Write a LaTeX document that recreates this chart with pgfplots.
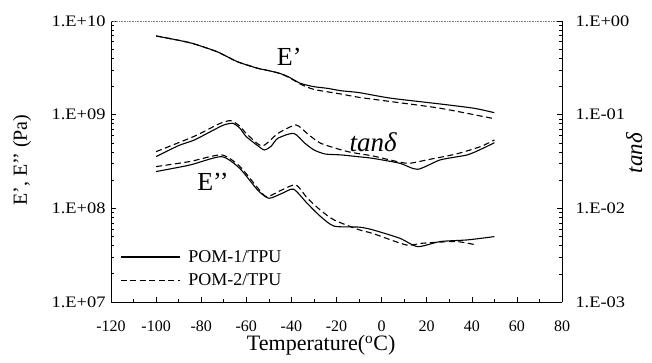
\documentclass[border=0pt]{standalone}
\usepackage{pgfplots}
\pgfplotsset{compat=1.18}
\usepackage{fontspec}
\setmainfont{Liberation Serif}
\newfontfamily\widefont[FakeStretch=1.15]{Liberation Serif}
\begin{document}
\begin{tikzpicture}[x=1pt,y=1pt]
\useasboundingbox (0,0) rectangle (652,363);
\begin{axis}[
  at={(111pt,61pt)}, anchor=south west,
  scale only axis, width=451pt, height=281pt,
  xmin=-120, xmax=80,
  ymode=log, ymin=1e7, ymax=1e10,
  axis y line*=left, axis x line*=bottom,
  axis line style={line width=0.8pt},
  tick align=inside,
  xtick={-120,-100,...,80}, minor x tick num=1,
  ytick={1e7,1e8,1e9,1e10},
  yticklabels={1.E+07,1.E+08,1.E+09,1.E+10},
  major tick length=5pt, minor tick length=3pt,
  tick style={line width=0.6pt, black},
  /pgf/number format/assume math mode=true,
  xticklabel style={font=\fontsize{16}{19}\selectfont, yshift=-15pt},
  yticklabel style={font=\widefont\fontsize{16}{19}\selectfont, xshift=-2pt},
  xlabel={Temperature(\textsuperscript{o}C)},
  xlabel style={font=\fontsize{22}{26}\selectfont, at={(axis description cs:0.466,-0.155)}, anchor=center},
  ylabel={E’, E’’ (Pa)},
  ylabel style={font=\fontsize{20}{24}\selectfont, at={(axis description cs:-0.197,0.505)}, anchor=center},
  legend style={draw=none, fill=none, at={(axis description cs:0.02,0.045)}, anchor=south west,
    font=\fontsize{18}{21}\selectfont, row sep=6pt, inner sep=0pt, nodes={inner xsep=8pt}},
  legend cell align=left,
  legend image code/.code={\draw[#1] (0pt,0pt) -- (59pt,0pt);},
  every axis plot/.append style={line width=1.1pt, black, smooth, tension=0.4},
]
% E' solid
\addplot[solid] coordinates {(-100,6.92e9)(-85,5.86e9)(-73,4.70e9)(-64,3.68e9)(-55,3.13e9)(-50,2.95e9)(-45,2.75e9)(-41,2.51e9)(-36,2.16e9)(-30,1.99e9)(-24,1.91e9)(-18,1.80e9)(-10,1.72e9)(4,1.50e9)(26,1.30e9)(41,1.17e9)(50,1.05e9)};
\addlegendentry{POM-1/TPU}
% E' dashed
\addplot[dash pattern=on 6pt off 3.5pt] coordinates {(-100,6.92e9)(-85,5.86e9)(-73,4.70e9)(-64,3.68e9)(-55,3.13e9)(-50,2.95e9)(-45,2.75e9)(-41,2.49e9)(-36,2.12e9)(-30,1.86e9)(-18,1.66e9)(-10,1.53e9)(4,1.38e9)(26,1.17e9)(49,9.15e8)};
\addlegendentry{POM-2/TPU}
% E'' solid
\addplot[solid, forget plot] coordinates {(-100,2.47e8)(-85,2.90e8)(-71,3.56e8)(-63,2.68e8)(-55,1.57e8)(-50,1.28e8)(-44,1.45e8)(-39,1.60e8)(-33,1.13e8)(-27,8.15e7)(-21,6.45e7)(-10,6.3e7)(-4,5.9e7)(8,4.8e7)(16,3.9e7)(26,4.42e7)(38,4.6e7)(50,4.99e7)};
% E'' dashed
\addplot[dash pattern=on 6pt off 3.5pt, forget plot] coordinates {(-100,2.79e8)(-85,3.16e8)(-71,3.72e8)(-63,2.82e8)(-55,1.66e8)(-51,1.33e8)(-44,1.58e8)(-38,1.78e8)(-33,1.29e8)(-27,9.5e7)(-21,7.5e7)(-10,5.9e7)(-4,5.4e7)(11,4.06e7)(18,4.24e7)(33,4.42e7)(42,4.06e7)};
\node[font=\fontsize{26}{30}\selectfont] at (axis cs:-41,4.13e9) {E’};
\node[font=\fontsize{26}{30}\selectfont] at (axis cs:-74.8,1.91e8) {E’’};
\node[font=\fontsize{27}{31}\selectfont\itshape] at (axis cs:-3.8,5.12e8) {tanδ};
\draw[gray, line width=0.6pt, densely dotted] (axis description cs:0,1) -- (axis description cs:1,1);
\end{axis}
\begin{axis}[
  at={(111pt,61pt)}, anchor=south west,
  scale only axis, width=451pt, height=281pt,
  xmin=-120, xmax=80,
  ymode=log, ymin=1e-3, ymax=1,
  axis y line*=right, axis x line=none,
  axis line style={line width=0.8pt},
  tick align=inside,
  ytick={1e-3,1e-2,1e-1,1},
  yticklabels={1.E-03,1.E-02,1.E-01,1.E+00},
  major tick length=5pt, minor tick length=3pt,
  tick style={line width=0.6pt, black},
  yticklabel style={font=\widefont\fontsize{16}{19}\selectfont, xshift=10pt},
  ylabel={tanδ},
  ylabel style={font=\fontsize{23}{27}\selectfont\itshape, at={(axis description cs:1.16,0.53)}, anchor=center},
  every axis plot/.append style={line width=1.1pt, black, smooth, tension=0.4},
]
% tan delta solid
\addplot[solid] coordinates {(-100,0.0356)(-90,0.0468)(-83,0.0537)(-75,0.0676)(-70,0.0776)(-66,0.0809)(-63,0.0724)(-60,0.0582)(-55,0.0468)(-52,0.042)(-49,0.046)(-46,0.056)(-39,0.0632)(-34,0.0495)(-30,0.042)(-25,0.038)(-18,0.0372)(-10,0.0355)(-4,0.0342)(8,0.0303)(16,0.0261)(26,0.0329)(38,0.0372)(45,0.0438)(50,0.0502)};
% tan delta dashed
\addplot[dash pattern=on 6pt off 3.5pt] coordinates {(-100,0.0403)(-83,0.0589)(-72,0.0800)(-67,0.0863)(-63,0.0760)(-60,0.063)(-53,0.0463)(-46,0.063)(-38,0.0776)(-33,0.063)(-27,0.0495)(-15,0.0403)(-4,0.0363)(11,0.0303)(20,0.0329)(33,0.038)(44,0.0457)(50,0.0537)};
\end{axis}
\end{tikzpicture}
\end{document}
